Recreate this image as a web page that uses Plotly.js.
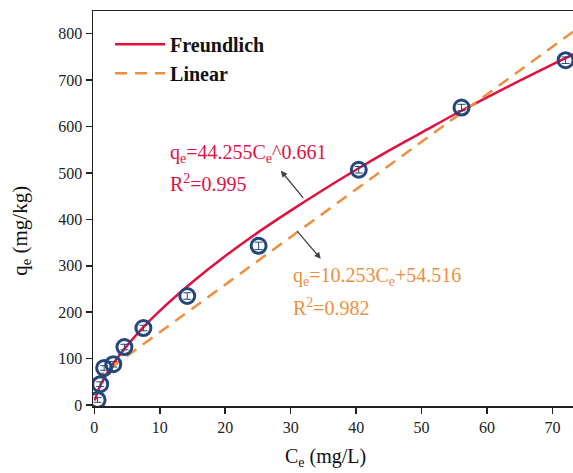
<!DOCTYPE html>
<html>
<head>
<meta charset="utf-8">
<script src="https://cdn.plot.ly/plotly-3.0.1.min.js"></script>
<style>
html,body{margin:0;padding:0;overflow:hidden;background:#fff;}
#chart{width:600px;height:473px;}
</style>
</head>
<body>
<div id="chart"></div>
<script>
const ce = [0.5, 0.9, 1.5, 2.9, 4.6, 7.5, 14.2, 25.1, 40.4, 56.1, 72.0];
const qe = [11, 45, 80, 88, 125, 166, 235, 343, 507, 641, 743];
const qeErr = [5, 5, 5, 6, 6, 6, 7, 8, 7, 7, 7];

// Freundlich fitted curve
const freundX = [0.1, 0.25, 0.5, 1, 2, 3, 5, 7.5, 10, 15, 20, 25, 30, 35, 40, 45, 50, 55, 60, 65, 70, 75];
const freundY = [9.7, 17.7, 28, 44.3, 70, 91.5, 128, 168, 203, 265, 321, 372, 419, 464, 507, 548, 587, 626, 663, 699, 734, 768];

// Linear fitted line (end points)
const linX = [0, 75];
const linY = [54.5, 823.5];

const serif = "Liberation Serif, Times New Roman, serif";
const red = "#e2103f";
const orange = "#ef8f3e";
const blue = "#23467d";

const traces = [
  {x: freundX, y: freundY, mode: "lines", name: "Freundlich",
   line: {color: red, width: 2.5, shape: "spline", smoothing: 1}},
  {x: linX, y: linY, mode: "lines", name: "Linear",
   line: {color: orange, width: 2.5, dash: "12px,8px"}},
  {x: ce, y: qe, mode: "markers", showlegend: false,
   marker: {symbol: "circle-open", size: 15, color: blue, line: {width: 3, color: blue}},
   error_y: {type: "data", array: qeErr, visible: true, color: blue, thickness: 1, width: 4}}
];

const layout = {
  width: 600, height: 473,
  margin: {l: 93, r: 20, t: 11, b: 67},
  paper_bgcolor: "#fff", plot_bgcolor: "#fff",
  font: {family: serif, color: "#222", size: 16},
  showlegend: true,
  legend: {x: 0.035, y: 0.965, xanchor: "left", yanchor: "top",
    font: {family: serif, size: 20, color: "#111", weight: "bold"},
    bgcolor: "rgba(0,0,0,0)", itemwidth: 50, tracegroupgap: 0},
  xaxis: {range: [-0.2, 74.2], tick0: 0, dtick: 10, ticks: "outside", ticklen: 6, tickwidth: 1.5,
    tickcolor: "#222", showline: true, linecolor: "#222", linewidth: 1.5, mirror: true,
    showgrid: false, zeroline: false, tickfont: {family: serif, size: 16, color: "#222"}},
  yaxis: {range: [-2, 849], tick0: 0, dtick: 100, ticks: "outside", ticklen: 6, tickwidth: 1.5,
    tickcolor: "#222", showline: true, linecolor: "#222", linewidth: 1.5,
    showgrid: false, zeroline: false, tickfont: {family: serif, size: 16, color: "#222"}},
  annotations: [
    {xref: "paper", yref: "paper", x: (325-93)/487, y: -0.13, xanchor: "center", yanchor: "middle",
     text: "C<sub>e</sub> (mg/L)", showarrow: false, font: {family: serif, size: 20, color: "#111"}},
    {xref: "paper", yref: "paper", x: -0.148, y: (405-230)/394.7, xanchor: "center", yanchor: "middle",
     text: "q<sub>e</sub> (mg/kg)", textangle: -90, showarrow: false, font: {family: serif, size: 21, color: "#111"}},
    {xref: "x", yref: "y", x: 11.3, y: 543, xanchor: "left", yanchor: "middle",
     text: "q<sub>e</sub>=44.255C<sub>e</sub>^0.661", showarrow: false, font: {family: serif, size: 20, color: red}},
    {xref: "x", yref: "y", x: 11.3, y: 478, xanchor: "left", yanchor: "middle",
     text: "R<sup>2</sup>=0.995", showarrow: false, font: {family: serif, size: 20, color: red}},
    {xref: "x", yref: "y", x: 30.0, y: 278, xanchor: "left", yanchor: "middle",
     text: "q<sub>e</sub>=10.253C<sub>e</sub>+54.516", showarrow: false, font: {family: serif, size: 20, color: orange}},
    {xref: "x", yref: "y", x: 30.0, y: 211, xanchor: "left", yanchor: "middle",
     text: "R<sup>2</sup>=0.982", showarrow: false, font: {family: serif, size: 20, color: orange}},
    {xref: "x", yref: "y", x: 28.5, y: 505, axref: "x", ayref: "y", ax: 32.1, ay: 443,
     text: "", showarrow: true, arrowhead: 2, arrowsize: 1, arrowwidth: 1.3, arrowcolor: "#444"},
    {xref: "x", yref: "y", x: 34.6, y: 315, axref: "x", ayref: "y", ax: 30.8, ay: 378,
     text: "", showarrow: true, arrowhead: 2, arrowsize: 1, arrowwidth: 1.3, arrowcolor: "#444"}
  ]
};

Plotly.newPlot("chart", traces, layout, {staticPlot: true, displayModeBar: false});
</script>
</body>
</html>
